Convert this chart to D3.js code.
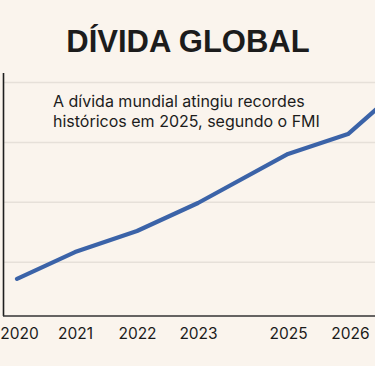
<!DOCTYPE html>
<html>
<head>
<meta charset="utf-8">
<script src="https://cdn.jsdelivr.net/npm/d3@7"></script>
<style>
  html, body { margin: 0; padding: 0; background: #faf4ed; }
  svg { display: block; }
</style>
</head>
<body>
<svg id="chart" width="375" height="366"></svg>
<script>
(function () {
  'use strict';

  // data (arbitrary units)
  const years = [2020, 2021, 2022, 2023, 2025, 2026, 2027];
  const debt = [18.0, 29.2, 38.0, 49.7, 70.2, 78.5, 99.0];
  const tickYears = [2020, 2021, 2022, 2023, 2025, 2026];
  const tickLabels = ['2020', '2021', '2022', '2023', '2025', '2026'];
  const gridValues = [25, 50, 75, 100];

  const title = 'DÍVIDA GLOBAL';
  const subtitle = ['A dívida mundial atingiu recordes', 'históricos em 2025, segundo o FMI'];

  const W = 375, H = 366;
  const svg = d3.select('#chart');

  svg.append('rect').attr('width', W).attr('height', H).attr('fill', '#faf4ed');

  // x positions are not evenly spaced in the original (2024 skipped)
  const x = d3.scaleLinear()
    .domain(years)
    .range([17, 75, 137, 198, 288, 348, 404]);

  const y = d3.scaleLinear()
    .domain([2.5, 104])
    .range([316, 73]);

  // grid
  svg.append('g').attr('class', 'grid')
    .selectAll('line').data(gridValues).join('line')
    .attr('x1', 4).attr('x2', W)
    .attr('y1', d => y(d)).attr('y2', d => y(d))
    .attr('stroke', '#e6e0d9').attr('stroke-width', 1.5);

  // axes
  svg.append('line')
    .attr('x1', 3.5).attr('x2', 3.5)
    .attr('y1', y(104)).attr('y2', y(2.5))
    .attr('stroke', '#1e1e1e').attr('stroke-width', 1.6);

  const xAxis = svg.append('g')
    .attr('transform', `translate(0,${y(2.5)})`)
    .call(d3.axisBottom(x).tickValues(tickYears)
      .tickFormat((d, i) => tickLabels[i]).tickSize(0).tickPadding(12));
  xAxis.select('.domain')
    .attr('d', `M3,0H${W}`)
    .attr('stroke', '#333').attr('stroke-width', 1.6);
  xAxis.selectAll('text')
    .attr('font-family', 'Inter, "Liberation Sans", sans-serif')
    .attr('font-size', 15.5)
    .attr('fill', '#1a1a1a');
  xAxis.selectAll('.tick').filter(d => d === 2020).select('text').attr('dx', 2);
  xAxis.selectAll('.tick').filter(d => d === 2026).select('text').attr('dx', 2);

  // line
  const line = d3.line()
    .x((d, i) => x(years[i]))
    .y(d => y(d));

  svg.append('path')
    .datum(debt)
    .attr('d', line)
    .attr('fill', 'none')
    .attr('stroke', '#3b63a8')
    .attr('stroke-width', 4.2)
    .attr('stroke-linecap', 'round')
    .attr('stroke-linejoin', 'round');

  // title
  svg.append('text')
    .attr('x', 188).attr('y', 52)
    .attr('text-anchor', 'middle')
    .attr('font-family', '"Liberation Sans", Arial, sans-serif')
    .attr('font-weight', 'bold')
    .attr('font-size', 31)
    .attr('fill', '#1c1c1c')
    .text(title);

  // annotation
  svg.append('text')
    .attr('font-family', 'Inter, "Liberation Sans", sans-serif')
    .attr('font-size', 16)
    .attr('fill', '#1c1c1c')
    .selectAll('tspan').data(subtitle).join('tspan')
    .attr('x', 53)
    .attr('y', (d, i) => 107 + i * 20)
    .text(d => d);
})();
</script>
</body>
</html>
